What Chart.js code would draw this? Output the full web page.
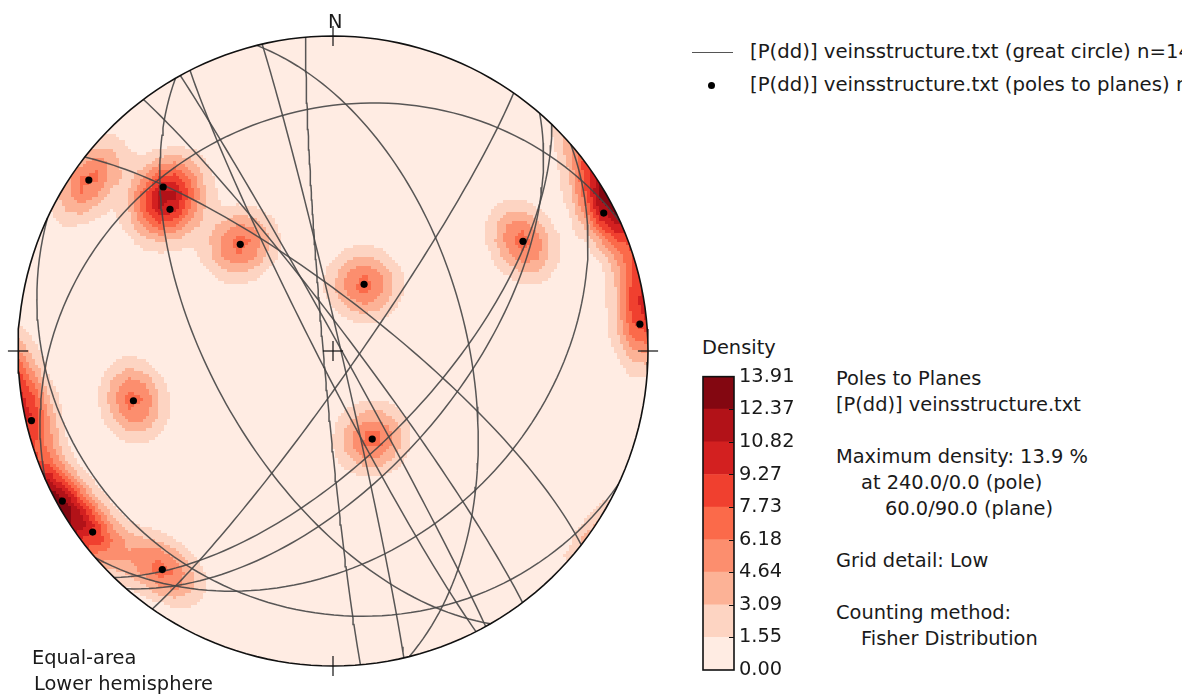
<!DOCTYPE html>
<html>
<head>
<meta charset="utf-8">
<script src="https://cdn.jsdelivr.net/npm/chart.js@4/dist/chart.umd.min.js"></script>
<style>
  html, body { margin: 0; padding: 0; background: #fff; overflow: hidden; width: 1182px; height: 695px; }
  body { position: relative; font-family: "DejaVu Sans", sans-serif; font-size: 19.4px; color: #1a1a1a; }
  .t { position: absolute; white-space: nowrap; line-height: 22px; }
  .lg { font-size: 19.7px; }
  canvas { position: absolute; }
  #info { position: absolute; left: 836px; top: 366px; line-height: 26px; white-space: nowrap; }
  #info div { height: 26px; }
</style>
</head>
<body>
<canvas id="net" width="680" height="695" style="left:0;top:0"></canvas>
<canvas id="cbar" width="130" height="330" style="left:690px;top:360px"></canvas>

<div class="t" style="left:328px;top:11px">N</div>
<div class="t" style="left:32px;top:647px">Equal-area</div>
<div class="t" style="left:34px;top:673px">Lower hemisphere</div>

<!-- legend -->
<div style="position:absolute;left:692px;top:52px;width:41px;height:0;border-top:1.5px solid #555"></div>
<div style="position:absolute;left:708px;top:82px;width:7px;height:7px;border-radius:50%;background:#000"></div>
<div class="t lg" style="left:750px;top:41px">[P(dd)] veinsstructure.txt (great circle) n=14</div>
<div class="t lg" style="left:750px;top:74px">[P(dd)] veinsstructure.txt (poles to planes) n=14</div>

<div class="t" style="left:702px;top:337px">Density</div>

<div id="info">
  <div>Poles to Planes</div>
  <div>[P(dd)] veinsstructure.txt</div>
  <div></div>
  <div>Maximum density: 13.9 %</div>
  <div style="padding-left:25px">at 240.0/0.0 (pole)</div>
  <div style="padding-left:49px">60.0/90.0 (plane)</div>
  <div></div>
  <div>Grid detail: Low</div>
  <div></div>
  <div>Counting method:</div>
  <div style="padding-left:25px">Fisher Distribution</div>
</div>

<script>
// Planes from veinsstructure.txt, given as dip direction / dip (degrees)
const dipDirections = [125, 134, 131, 139, 205, 240, 243, 265, 76, 77, 61, 53, 38, 336];
const dips          = [84,  64,  58,  37,  19,  59,  86,  87.5, 55, 88, 88, 85, 77, 25];

// Contour levels (%) and their fill colours (Reds)
const densityLevels = [0.00, 1.55, 3.09, 4.64, 6.18, 7.73, 9.27, 10.82, 12.37, 13.91];
const levelColors = ['#ffece3', '#fdd4c2', '#fcb296', '#fc8e6e', '#fb6a4a',
                     '#f0402f', '#d32020', '#b21218', '#830711'];

// Fisher counting: concentration k, each pole carries 100/n percent
const fisherK = 100;
const gridSpacing = 0.05;   // low grid detail, in projected units

const D2R = Math.PI / 180;

// unit vector (East, North, Up) for a line of given trend/plunge
function lineVector(trend, plunge) {
  const t = trend * D2R, p = plunge * D2R;
  return [Math.cos(p) * Math.sin(t), Math.cos(p) * Math.cos(t), -Math.sin(p)];
}

// Schmidt (equal-area) lower-hemisphere projection of a unit vector
function project(v) {
  let [vx, vy, vz] = v;
  if (vz > 0) { vx = -vx; vy = -vy; vz = -vz; }
  const r = Math.sqrt(Math.max(0, 1 + vz));
  const h = Math.hypot(vx, vy);
  if (h < 1e-12) return { x: 0, y: 0 };
  return { x: r * vx / h, y: r * vy / h };
}

// inverse projection: plot coordinates -> lower hemisphere unit vector
function unproject(X, Y) {
  let r = Math.hypot(X, Y);
  if (r > 1) { X /= r; Y /= r; r = 1; }
  const z = r * r - 1;
  const h = Math.sqrt(Math.max(0, 1 - z * z));
  if (r < 1e-12) return [0, 0, -1];
  return [h * X / r, h * Y / r, z];
}

const poleVectors = dipDirections.map((dd, i) => lineVector((dd + 180) % 360, 90 - dips[i]));
const polePoints = poleVectors.map(project);
const poleWeight = 100 / poleVectors.length;

function greatCircle(dd, dip) {
  const s = lineVector(dd - 90, 0);
  const d = lineVector(dd, dip);
  const pts = [];
  for (let a = 0; a <= 180; a += 2) {
    const c = Math.cos(a * D2R), sn = Math.sin(a * D2R);
    pts.push(project([c * s[0] + sn * d[0], c * s[1] + sn * d[1], c * s[2] + sn * d[2]]));
  }
  return pts;
}

function densityAt(X, Y) {
  const n = unproject(X, Y);
  let sum = 0;
  for (const p of poleVectors) {
    const c = Math.abs(n[0] * p[0] + n[1] * p[1] + n[2] * p[2]);
    sum += Math.exp(fisherK * (c - 1));
  }
  return poleWeight * sum;
}

// density evaluated on a regular node grid, then interpolated between nodes
const gridMin = -1.05;
const gridCount = Math.round(2 * -gridMin / gridSpacing) + 1;
const nodeValues = [];
for (let i = 0; i < gridCount; i++) {
  const row = [];
  for (let j = 0; j < gridCount; j++) row.push(densityAt(gridMin + i * gridSpacing, gridMin + j * gridSpacing));
  nodeValues.push(row);
}
function gridDensity(X, Y) {
  const fi = (X - gridMin) / gridSpacing, fj = (Y - gridMin) / gridSpacing;
  const i0 = Math.min(gridCount - 2, Math.max(0, Math.floor(fi)));
  const j0 = Math.min(gridCount - 2, Math.max(0, Math.floor(fj)));
  const tx = fi - i0, ty = fj - j0;
  const a = nodeValues[i0][j0], b = nodeValues[i0 + 1][j0];
  const c = nodeValues[i0][j0 + 1], d = nodeValues[i0 + 1][j0 + 1];
  return (a * (1 - tx) + b * tx) * (1 - ty) + (c * (1 - tx) + d * tx) * ty;
}

function levelIndex(d) {
  for (let i = densityLevels.length - 2; i >= 0; i--) {
    if (d >= densityLevels[i]) return i;
  }
  return 0;
}

// primitive circle and cardinal / centre crosses
const primitive = [];
for (let a = 0; a <= 360; a += 2) primitive.push({ x: Math.sin(a * D2R), y: Math.cos(a * D2R) });
const tickLen = 0.032;
const crossSegments = [
  [{ x: 0, y: 1 - tickLen }, { x: 0, y: 1 + tickLen }],
  [{ x: 0, y: -1 - tickLen }, { x: 0, y: -1 + tickLen }],
  [{ x: 1 - tickLen, y: 0 }, { x: 1 + tickLen, y: 0 }],
  [{ x: -1 - tickLen, y: 0 }, { x: -1 + tickLen, y: 0 }],
  [{ x: -tickLen, y: 0 }, { x: tickLen, y: 0 }],
  [{ x: 0, y: -tickLen }, { x: 0, y: tickLen }]
];

const densityCells = {
  id: 'densityCells',
  beforeDatasetsDraw(chart) {
    const { ctx, scales: { x, y } } = chart;
    const cx = x.getPixelForValue(0), cy = y.getPixelForValue(0);
    const rad = x.getPixelForValue(1) - cx;
    const step = 3;
    ctx.save();
    ctx.beginPath();
    ctx.arc(cx, cy, rad, 0, Math.PI * 2);
    ctx.clip();
    for (let py = Math.floor(cy - rad) - 1; py < cy + rad + 1; py += step) {
      for (let px = Math.floor(cx - rad) - 1; px < cx + rad + 1; px += step) {
        const X = x.getValueForPixel(px + step / 2);
        const Y = y.getValueForPixel(py + step / 2);
        if (Math.hypot(X, Y) > 1.03) continue;
        ctx.fillStyle = levelColors[levelIndex(gridDensity(X, Y))];
        ctx.fillRect(px, py, step, step);
      }
    }
    ctx.restore();
  }
};

const datasets = [];
datasets.push({
  label: 'poles', data: polePoints, order: 0,
  pointRadius: 3.6, pointBackgroundColor: '#000', pointBorderWidth: 0, showLine: false
});
datasets.push({
  label: 'primitive', data: primitive, order: 1, showLine: true, clip: false,
  borderColor: '#111', borderWidth: 1.6, pointRadius: 0, fill: false
});
crossSegments.forEach((seg) => datasets.push({
  data: seg, order: 1, showLine: true, clip: false,
  borderColor: '#111', borderWidth: 1.2, pointRadius: 0
}));
dipDirections.forEach((dd, i) => datasets.push({
  data: greatCircle(dd, dips[i]), order: 2, showLine: true,
  borderColor: 'rgba(70,70,70,0.9)', borderWidth: 1.5, pointRadius: 0, tension: 0
}));

new Chart(document.getElementById('net'), {
  type: 'scatter',
  data: { datasets },
  options: {
    responsive: false, animation: false, devicePixelRatio: 1,
    layout: { padding: { left: 18, top: 36, right: 32, bottom: 29 } },
    scales: {
      x: { type: 'linear', min: -1, max: 1, display: false },
      y: { type: 'linear', min: -1, max: 1, display: false }
    },
    plugins: { legend: { display: false }, tooltip: { enabled: false } },
    events: []
  },
  plugins: [densityCells]
});

// colour bar
const bandWidths = densityLevels.slice(1).map((v, i) => v - densityLevels[i]);
const cbarFrame = {
  id: 'cbarFrame',
  afterDatasetsDraw(chart) {
    const { ctx, chartArea: a, scales: { y } } = chart;
    ctx.save();
    ctx.strokeStyle = '#111';
    ctx.lineWidth = 1;
    densityLevels.slice(1, -1).forEach((v) => {
      const py = Math.round(y.getPixelForValue(v)) + 0.5;
      ctx.beginPath(); ctx.moveTo(a.right - 5, py); ctx.lineTo(a.right, py); ctx.stroke();
    });
    ctx.lineWidth = 1.6;
    ctx.strokeRect(a.left, a.top, a.right - a.left, a.bottom - a.top);
    ctx.restore();
  }
};
new Chart(document.getElementById('cbar'), {
  type: 'bar',
  data: {
    labels: ['Density'],
    datasets: bandWidths.map((w, i) => ({
      data: [w], backgroundColor: levelColors[i], borderWidth: 0,
      barPercentage: 1, categoryPercentage: 1
    }))
  },
  options: {
    responsive: false, animation: false, devicePixelRatio: 1,
    layout: { padding: { left: 13, top: 15, right: 0, bottom: 20 } },
    scales: {
      x: { stacked: true, display: false },
      y: {
        stacked: true, position: 'right', min: 0, max: densityLevels[densityLevels.length - 1],
        grid: { display: false, drawTicks: false }, border: { display: false },
        afterBuildTicks: (s) => { s.ticks = densityLevels.map((v) => ({ value: v })); },
        afterFit: (s) => { s.width = 86; },
        ticks: {
          padding: 5, color: '#1a1a1a', autoSkip: false,
          font: { family: 'DejaVu Sans', size: 19.4 },
          callback: (v) => Number(v).toFixed(2)
        }
      }
    },
    plugins: { legend: { display: false }, tooltip: { enabled: false } },
    events: []
  },
  plugins: [cbarFrame]
});
</script>
</body>
</html>
